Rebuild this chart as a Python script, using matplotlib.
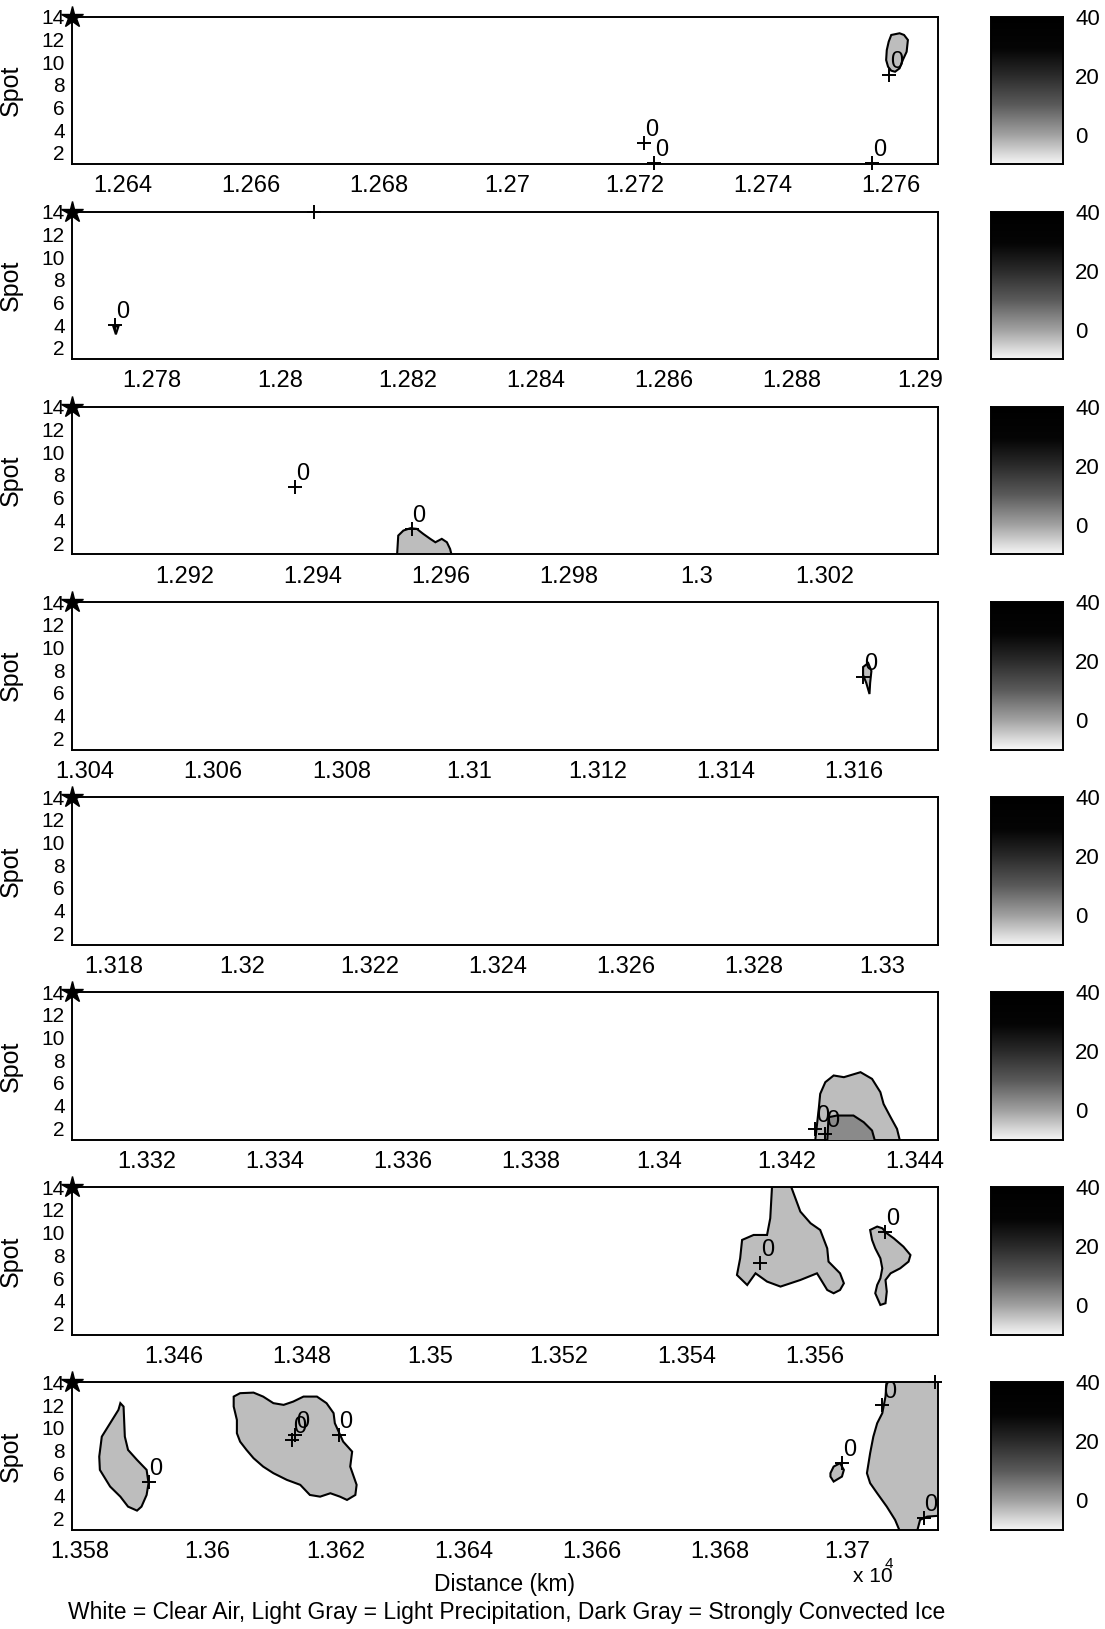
import numpy as np
import matplotlib
matplotlib.use('Agg')
import matplotlib.pyplot as plt
from matplotlib.colors import LinearSegmentedColormap
from matplotlib.ticker import MultipleLocator, FuncFormatter

plt.rcParams['font.family'] = ['Liberation Sans', 'DejaVu Sans']

# strip start positions (distance in units of 10^4 km), each strip is the same length
strip_start = [1.2632, 1.27675, 1.29024, 1.30379, 1.31734, 1.33083, 1.3444, 1.35788]
strip_width = 0.01353
spot_ticks = [2, 4, 6, 8, 10, 12, 14]
cbar_ticks = [0, 20, 40]

# light precipitation regions (outlines)
s1_a_x = [1.27600, 1.27613, 1.27620, 1.27626, 1.27624, 1.27618, 1.27613, 1.27606, 1.27600, 1.27595, 1.27592, 1.27593, 1.27596]
s1_a_y = [12.39, 12.54, 12.39, 11.95, 10.91, 10.18, 9.45, 9.15, 9.24, 9.59, 10.18, 11.06, 11.80]

s2_a_x = [1.27740, 1.27748, 1.27744]
s2_a_y = [3.9, 3.9, 3.2]

s3_a_x = [1.29532, 1.29534, 1.29542, 1.29553, 1.29563, 1.29573, 1.29584, 1.29592, 1.29602, 1.29610, 1.29615, 1.29618]
s3_a_y = [0.8, 2.66, 3.1, 3.31, 3.25, 2.81, 2.37, 2.07, 2.37, 2.07, 1.48, 0.8]

s4_a_x = [1.31615, 1.31623, 1.31628, 1.31626, 1.31625, 1.31620, 1.31615]
s4_a_y = [8.27, 8.62, 7.92, 6.86, 5.89, 6.86, 7.57]

s6_a_x = [1.34244, 1.34250, 1.34252, 1.34260, 1.34273, 1.34289, 1.34315, 1.34333, 1.34346, 1.34351, 1.34362, 1.34372, 1.34377]
s6_a_y = [0.8, 3.86, 5.04, 6.07, 6.66, 6.51, 6.95, 6.36, 5.19, 4.15, 2.98, 1.95, 0.8]

s7_a_x = [1.35534, 1.35531, 1.35526, 1.35505, 1.35487, 1.35484, 1.35479, 1.35495, 1.35508, 1.35526, 1.35547, 1.35578, 1.35604,
          1.35612, 1.35620, 1.35630, 1.35640, 1.35646, 1.35640, 1.35622, 1.35620, 1.35609, 1.35594, 1.35578, 1.35562]
s7_a_y = [14.3, 11.27, 9.8, 9.8, 9.36, 7.74, 6.27, 5.39, 6.42, 5.69, 5.25, 5.83, 6.42,
          5.69, 4.95, 4.66, 4.95, 5.54, 6.42, 7.45, 8.62, 10.24, 10.83, 11.86, 14.3]
s7_b_x = [1.35687, 1.35698, 1.35706, 1.35713, 1.35724, 1.35739, 1.35750, 1.35747, 1.35734, 1.35719, 1.35711,
          1.35713, 1.35711, 1.35703, 1.35695, 1.35698, 1.35703, 1.35706, 1.35703, 1.35695, 1.35690]
s7_b_y = [10.24, 10.54, 10.39, 9.95, 9.5, 8.77, 8.03, 7.45, 6.86, 6.42, 5.83,
          4.81, 3.78, 3.63, 4.66, 5.39, 5.98, 6.86, 7.74, 8.62, 9.36]

s8_a_x = [1.35864, 1.35869, 1.35871, 1.35876, 1.35890, 1.35905, 1.35908, 1.35905, 1.35897,
          1.35890, 1.35876, 1.35864, 1.35848, 1.35832, 1.35831, 1.35835, 1.35848, 1.35861]
s8_a_y = [12.17, 11.87, 9.22, 8.05, 7.17, 6.29, 5.12, 4.08, 3.05, 2.7, 3.05, 3.93, 4.82, 6.29, 7.46, 9.22, 10.4, 11.58]
s8_b_x = [1.36041, 1.36051, 1.36072, 1.36087, 1.36103, 1.36119, 1.36134, 1.36150, 1.36171, 1.36186, 1.36197,
          1.36199, 1.36212, 1.36226, 1.36223, 1.36233, 1.36231, 1.36218, 1.36207, 1.36192, 1.36176, 1.36160,
          1.36145, 1.36124, 1.36103, 1.36087, 1.36072, 1.36061, 1.36051, 1.36046, 1.36046, 1.36041]
s8_b_y = [12.75, 13.05, 13.1, 12.75, 12.17, 12.02, 12.31, 12.75, 12.75, 12.17, 11.29,
          10.4, 8.78, 7.9, 6.58, 4.97, 4.08, 3.64, 3.93, 4.23, 3.93, 4.08,
          4.97, 5.41, 6.0, 6.58, 7.32, 8.05, 8.78, 9.52, 10.69, 11.87]
s8_c_x = [1.36973, 1.36978, 1.36988, 1.36994, 1.36991, 1.36978, 1.36973]
s8_c_y = [6.0, 6.58, 6.88, 6.29, 5.7, 5.26, 5.7]
s8_d_x = [1.37061, 1.3716, 1.3716, 1.37124, 1.37113, 1.37108, 1.37082, 1.37074, 1.37061,
          1.37046, 1.37035, 1.37030, 1.37035, 1.37040, 1.37046, 1.37054, 1.37059]
s8_d_y = [14.3, 14.3, 2.32, 2.17, 1.88, 0.8, 0.8, 1.88, 3.05, 4.23, 5.12, 6.0, 7.76, 9.22, 10.4, 11.29, 12.75]

light_regions = [(0, s1_a_x, s1_a_y), (1, s2_a_x, s2_a_y), (2, s3_a_x, s3_a_y), (3, s4_a_x, s4_a_y),
                 (5, s6_a_x, s6_a_y), (6, s7_a_x, s7_a_y), (6, s7_b_x, s7_b_y),
                 (7, s8_a_x, s8_a_y), (7, s8_b_x, s8_b_y), (7, s8_c_x, s8_c_y), (7, s8_d_x, s8_d_y)]

# strongly convected ice (dark gray)
s6_dark_x = [1.34263, 1.34265, 1.34278, 1.34304, 1.34320, 1.34333, 1.34338]
s6_dark_y = [0.8, 2.98, 3.13, 3.13, 2.54, 1.81, 0.8]
dark_regions = [(5, s6_dark_x, s6_dark_y)]

# '+' marks that carry a "0" label
mark_strip = [0, 0, 0, 0, 1, 2, 2, 3, 5, 5, 6, 6, 7, 7, 7, 7, 7, 7, 7]
mark_x = [1.27597, 1.27214, 1.27230, 1.27570, 1.27743, 1.29373, 1.29555, 1.31615, 1.34244, 1.34260,
          1.35515, 1.35711, 1.35908, 1.36132, 1.36137, 1.36205, 1.36991, 1.37054, 1.37119]
mark_y = [8.86, 2.84, 1.08, 1.08, 4.0, 6.92, 3.25, 7.36, 1.95, 1.51,
          7.3, 10.1, 5.26, 8.93, 9.37, 9.37, 6.88, 12.02, 2.03]

# '+' marks without a label
plain_strip = [1, 7]
plain_x = [1.28053, 1.37137]
plain_y = [14.0, 14.0]

W, H = 1105, 1629
fig = plt.figure(figsize=(W / 100, H / 100), dpi=100)

cmap = LinearSegmentedColormap.from_list(
    'bar', [(0.0, '#f6f6f6'), (0.2, '#a0a0a0'), (0.4, '#5a5a5a'),
            (0.6, '#2a2a2a'), (0.78, '#050505'), (1.0, '#000000')])

for k in range(8):
    top = 16.7 + k * 195.1
    ax = fig.add_axes([71.7 / W, 1 - (top + 147.5) / H, 866.3 / W, 147.5 / H])
    x0 = strip_start[k]
    ax.set_xlim(x0, x0 + strip_width)
    ax.set_ylim(1, 14)

    for s, xs, ys in light_regions:
        if s == k:
            ax.fill(xs, ys, facecolor='#bdbdbd', edgecolor='black', lw=1.5, zorder=2)
    for s, xs, ys in dark_regions:
        if s == k:
            ax.fill(xs, ys, facecolor='#8a8a8a', edgecolor='black', lw=1.5, zorder=3)

    for s, mx, my in zip(mark_strip, mark_x, mark_y):
        if s == k:
            ax.plot(mx, my, '+', color='black', ms=10, mew=1.4, zorder=4, clip_on=False)
            ax.annotate('0', (mx, my), xytext=(0.5, 5), textcoords='offset points',
                        ha='left', va='baseline', fontsize=17, zorder=5)
    for s, mx, my in zip(plain_strip, plain_x, plain_y):
        if s == k:
            ax.plot(mx, my, '+', color='black', ms=10, mew=1.4, zorder=4, clip_on=False)

    # clustered marks in the upper left corner
    ax.plot(x0, 14, '*', color='black', ms=16, zorder=5, clip_on=False)

    ax.xaxis.set_major_locator(MultipleLocator(0.002))
    ax.xaxis.set_major_formatter(FuncFormatter(lambda v, p: f'{v:.4f}'.rstrip('0').rstrip('.')))
    ax.set_yticks(spot_ticks)
    ax.tick_params(axis='x', length=0, pad=8, labelsize=17)
    ax.tick_params(axis='y', length=0, pad=5, labelsize=15)
    for sp in ax.spines.values():
        sp.set_linewidth(1.4)
    ax.set_ylabel('Spot', fontsize=18)
    ax.yaxis.set_label_coords(-0.056, 0.5)

    # colour scale beside each strip
    cax = fig.add_axes([990.7 / W, 1 - (top + 147.5) / H, 72 / W, 147.5 / H])
    grad = np.linspace(-10, 40, 256).reshape(-1, 1)
    cax.imshow(grad, cmap=cmap, vmin=-10, vmax=40, aspect='auto', origin='lower',
               extent=[0, 1, -10, 40])
    cax.set_xticks([])
    cax.set_yticks(cbar_ticks)
    cax.yaxis.tick_right()
    cax.tick_params(axis='y', length=0, pad=9, labelsize=16)
    for sp in cax.spines.values():
        sp.set_linewidth(1.4)

fig.text(504 / W, 1 - 1585 / H, 'Distance (km)', ha='center', va='center', fontsize=16.5)
fig.text(853 / W, 1 - 1582 / H, 'x 10', ha='left', va='baseline', fontsize=15)
fig.text(885 / W, 1 - 1568 / H, '4', ha='left', va='baseline', fontsize=11)
fig.text(507 / W, 1 - 1612 / H,
         'White = Clear Air, Light Gray = Light Precipitation, Dark Gray = Strongly Convected Ice',
         ha='center', va='center', fontsize=16.5)

fig.savefig('out.png', dpi=100)
